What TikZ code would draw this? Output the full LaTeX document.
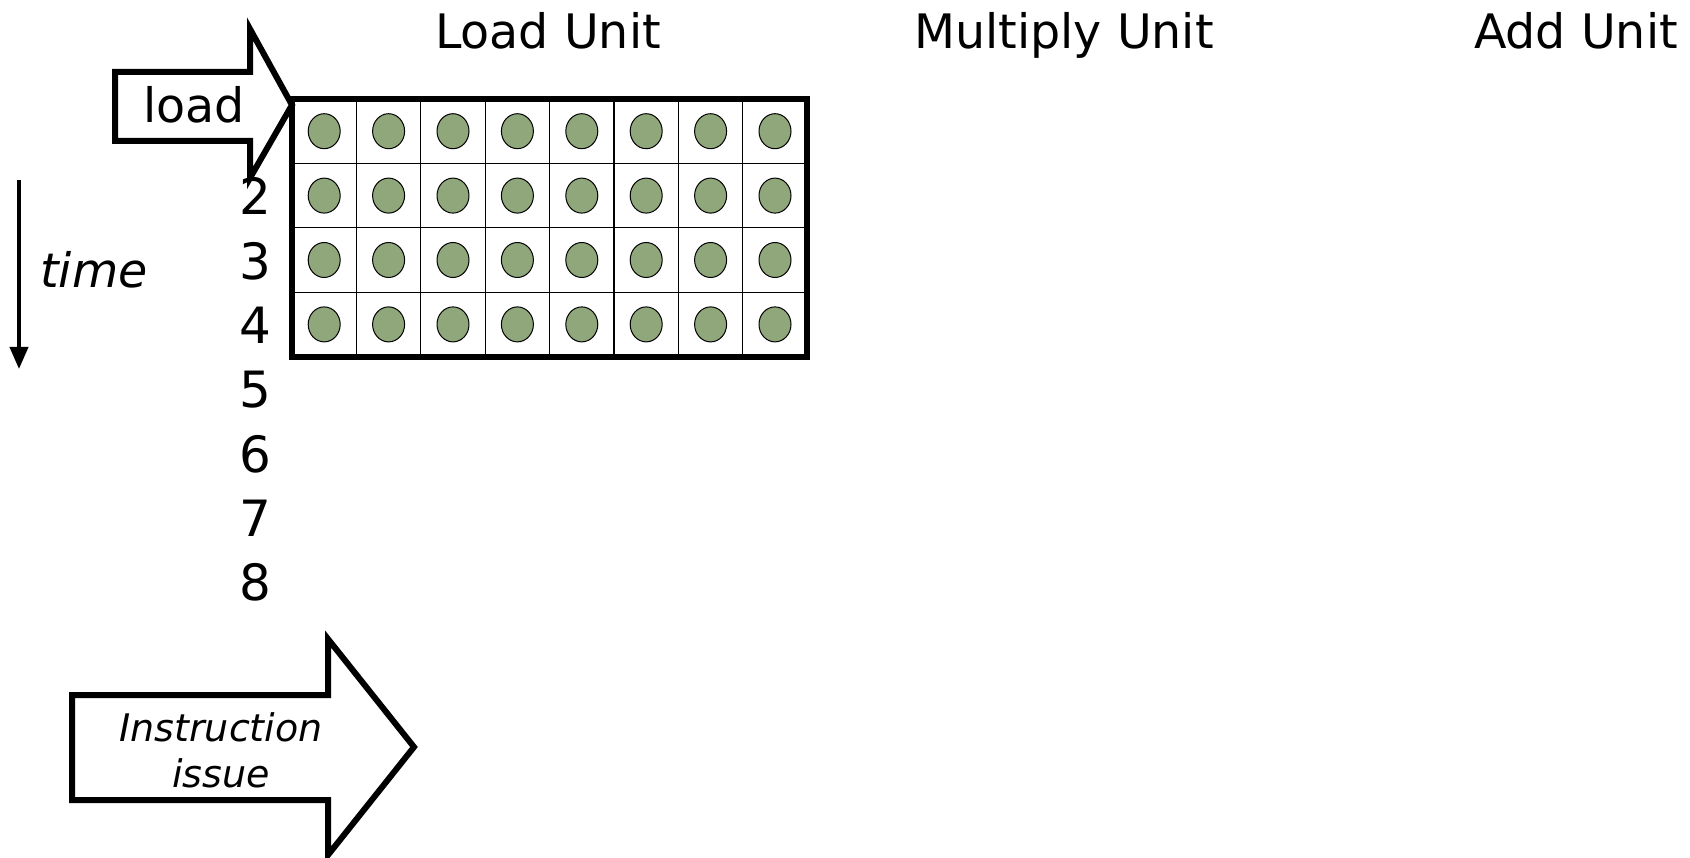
\documentclass[tikz,border=0pt]{standalone}
\usepackage{fontspec}
\setmainfont{DejaVu Sans}
\usetikzlibrary{arrows.meta}
\definecolor{dotgreen}{RGB}{143,167,122}
\tikzset{
  unitlabel/.style={font=\fontsize{47.5}{52}\selectfont,anchor=base},
  steplabel/.style={font=\fontsize{50}{54}\selectfont,anchor=base},
  blockarrow/.style={draw,line width=6pt,fill=white,miter limit=20},
}
\begin{document}
\begin{tikzpicture}[x=1pt,y=-1pt]
    \useasboundingbox (0,0) rectangle (1690,858);
    % unit headings
    \node[unitlabel] (loadunit) at (548,49) {Load Unit};
    \node[unitlabel] (mulunit) at (1064,49) {Multiply Unit};
    \node[unitlabel] (addunit) at (1576,49) {Add Unit};
    % cycle numbers
    \foreach \t in {2,...,8}{
        \node[steplabel] (cyc\t) at (255,{215+64.3*(\t-2)}) {\t};
    }
    % vector register elements in the load unit
    \foreach \r in {0,...,3}{
        \foreach \c in {0,...,7}{
            \draw[line width=1.2pt] (292+\c*64.4,99+\r*64.4) rectangle ++(64.4,64.4);
            \draw[fill=dotgreen,line width=1pt] (292+\c*64.4+32.2,99+\r*64.4+32.2) ellipse (16 and 17.5);
        }
    }
    \draw[line width=6pt] (292,99) rectangle (807.2,356.6);
    % load arrow
    \draw[blockarrow] (115,72) -- (250,72) -- (250,29) -- (292,105) -- (250,178) -- (250,141) -- (115,141) -- cycle;
    \node[unitlabel] (loadlbl) at (194,123) {load};
    % time axis
    \coordinate (ttop) at (19,180);
    \coordinate (tbot) at (19,369);
    \draw[line width=4pt,-{Triangle[length=22pt,width=18pt]}] (ttop) -- (tbot);
    \node[unitlabel,font=\fontsize{47.5}{52}\selectfont\itshape] (timelbl) at (94,288) {time};
    % instruction issue arrow
    \draw[blockarrow] (72,695) -- (328,695) -- (328,639) -- (414,747) -- (328,855) -- (328,800) -- (72,800) -- cycle;
    \node[font=\fontsize{38}{46}\selectfont\itshape,align=center] (issue) at (221,750) {Instruction\\issue};
\end{tikzpicture}
\end{document}
